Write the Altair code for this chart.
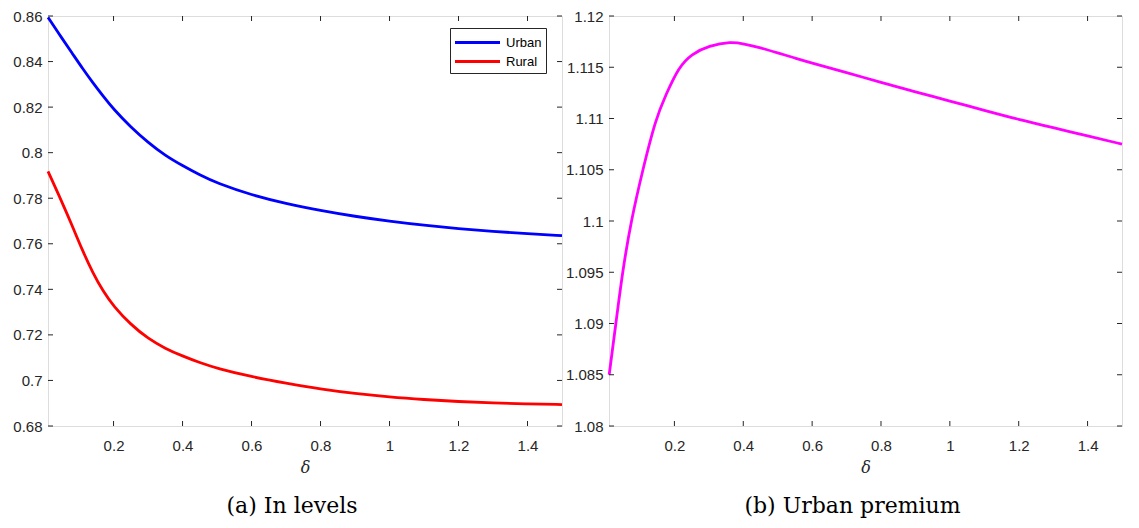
import altair as alt
import pandas as pd

# ---------------- data ----------------
delta_levels = [0.01, 0.05, 0.08, 0.11, 0.14, 0.17, 0.2, 0.25, 0.3, 0.35, 0.4, 0.45,
                0.5, 0.6, 0.7, 0.8, 0.9, 1.0, 1.1, 1.2, 1.3, 1.4, 1.5]
urban = [0.8594, 0.8503, 0.8437, 0.8370, 0.8307, 0.8248, 0.8191, 0.8112, 0.8045, 0.7987,
         0.7943, 0.7902, 0.7866, 0.7814, 0.7776, 0.7746, 0.7720, 0.7699, 0.7681, 0.7666,
         0.7654, 0.7644, 0.7636]
rural = [0.7918, 0.7785, 0.7680, 0.7570, 0.7472, 0.7391, 0.7326, 0.7245, 0.7184, 0.7140,
         0.7107, 0.7078, 0.7053, 0.7016, 0.6988, 0.6962, 0.6942, 0.6927, 0.6916, 0.6907,
         0.6901, 0.6897, 0.6894]

delta_premium = [0.0105, 0.03, 0.049, 0.074, 0.108, 0.146, 0.175, 0.212, 0.25, 0.3, 0.365,
                 0.4, 0.45, 0.5, 0.55, 0.6, 0.7, 0.8, 0.9, 1.0, 1.1, 1.2, 1.3, 1.4, 1.5]
premium = [1.0850, 1.0900, 1.0950, 1.1000, 1.1050, 1.1100, 1.1123, 1.1150, 1.1163, 1.1171,
           1.1175, 1.1173, 1.1169, 1.1164, 1.1159, 1.1154, 1.1145, 1.1135, 1.1126, 1.1117,
           1.1108, 1.1099, 1.1091, 1.1083, 1.1075]

series_names = ["Urban", "Rural"]
series_colors = ["#0000ff", "#ff0000"]
premium_color = "#ff00ff"

x_ticks = [0.2, 0.4, 0.6, 0.8, 1.0, 1.2, 1.4]
y_ticks_a = [0.68, 0.70, 0.72, 0.74, 0.76, 0.78, 0.80, 0.82, 0.84, 0.86]
y_ticks_b = [1.08, 1.085, 1.09, 1.095, 1.10, 1.105, 1.11, 1.115, 1.12]
x_domain = [0.01, 1.5]
y_domain_a = [0.68, 0.86]
y_domain_b = [1.08, 1.12]
captions = ["(a) In levels", "(b) Urban premium"]
x_title = "δ"

# ---------------- styling ----------------
W_A, W_B, H = 514, 513, 410
GAP = 47
TICK = 5
AX = "#262626"
LABEL_FONT = "Liberation Sans"
SERIF = "DejaVu Serif"
LINE_W = 2.8

df_levels = pd.DataFrame({
    "delta": delta_levels * 2,
    "value": urban + rural,
    "series": ["Urban"] * len(urban) + ["Rural"] * len(rural),
})
df_prem = pd.DataFrame({"delta": delta_premium, "value": premium})
df_xt = pd.DataFrame({"t": x_ticks})


def x_axis():
    return alt.Axis(title=x_title, values=x_ticks, format="~g", ticks=False, tickSize=0,
                    domain=False, grid=False, labelFont=LABEL_FONT, labelFontSize=15,
                    labelColor=AX, labelPadding=12, labelFlush=False,
                    titleFont=SERIF, titleFontStyle="italic", titleFontWeight="normal",
                    titleFontSize=16, titleColor=AX, titlePadding=6)


def y_axis(vals):
    return alt.Axis(title=None, values=vals, format="~g", ticks=False, tickSize=0,
                    domain=False, grid=False, labelFont=LABEL_FONT, labelFontSize=15,
                    labelColor=AX, labelPadding=6, labelFlush=False)


def tick_layers(xscale, yscale, yvals, W):
    df_yt = pd.DataFrame({"t": yvals})
    rule = dict(color=AX, strokeWidth=1)
    xa, ya = x_axis(), y_axis(yvals)
    bottom = alt.Chart(df_xt).mark_rule(**rule).encode(
        x=alt.X("t:Q", scale=xscale, axis=xa), y=alt.value(H), y2=alt.value(H - TICK))
    top = alt.Chart(df_xt).mark_rule(**rule).encode(
        x=alt.X("t:Q", scale=xscale, axis=xa), y=alt.value(0), y2=alt.value(TICK))
    left = alt.Chart(df_yt).mark_rule(**rule).encode(
        y=alt.Y("t:Q", scale=yscale, axis=ya), x=alt.value(0), x2=alt.value(TICK))
    right = alt.Chart(df_yt).mark_rule(**rule).encode(
        y=alt.Y("t:Q", scale=yscale, axis=ya), x=alt.value(W), x2=alt.value(W - TICK))
    return [bottom, top, left, right]


def caption(text):
    return alt.TitleParams(text=text, orient="bottom", font=SERIF, fontSize=22,
                           fontWeight="normal", color="black", offset=21, anchor="middle",
                           dx=-13)


xs_a = alt.Scale(domain=x_domain, nice=False, zero=False)
ys_a = alt.Scale(domain=y_domain_a, nice=False, zero=False)
xs_b = alt.Scale(domain=x_domain, nice=False, zero=False)
ys_b = alt.Scale(domain=y_domain_b, nice=False, zero=False)

lines_a = alt.Chart(df_levels).mark_line(strokeWidth=LINE_W, interpolate="basis").encode(
    x=alt.X("delta:Q", scale=xs_a, axis=x_axis()),
    y=alt.Y("value:Q", scale=ys_a, axis=y_axis(y_ticks_a)),
    color=alt.Color("series:N", sort=series_names,
                    scale=alt.Scale(domain=series_names, range=series_colors),
                    legend=alt.Legend(title=None, orient="none", legendX=W_A - 112,
                                      legendY=12,
                                      symbolType="M-2.5,0H2.5", symbolSize=324,
                                      symbolOffset=13, symbolStrokeWidth=3,
                                      labelFont=LABEL_FONT, labelFontSize=13,
                                      labelColor="black", labelOffset=18,
                                      strokeColor=AX, fillColor="white", padding=4,
                                      rowPadding=1)),
)

panel_a = alt.layer(lines_a, *tick_layers(xs_a, ys_a, y_ticks_a, W_A)).properties(
    width=W_A, height=H, title=caption(captions[0]))

line_b = alt.Chart(df_prem).mark_line(strokeWidth=LINE_W, interpolate="basis",
                                      color=premium_color).encode(
    x=alt.X("delta:Q", scale=xs_b, axis=x_axis()),
    y=alt.Y("value:Q", scale=ys_b, axis=y_axis(y_ticks_b)),
)

panel_b = alt.layer(line_b, *tick_layers(xs_b, ys_b, y_ticks_b, W_B)).properties(
    width=W_B, height=H, title=caption(captions[1]))

chart = alt.hconcat(panel_a, panel_b, spacing=GAP, bounds="flush").resolve_legend(
    color="independent").properties(
    padding={"left": 4, "top": 0, "right": 0, "bottom": 0}
).configure_view(stroke=AX, strokeWidth=1).configure(background="white")

chart.save("out.html", embed_options={"renderer": "svg", "actions": False})
